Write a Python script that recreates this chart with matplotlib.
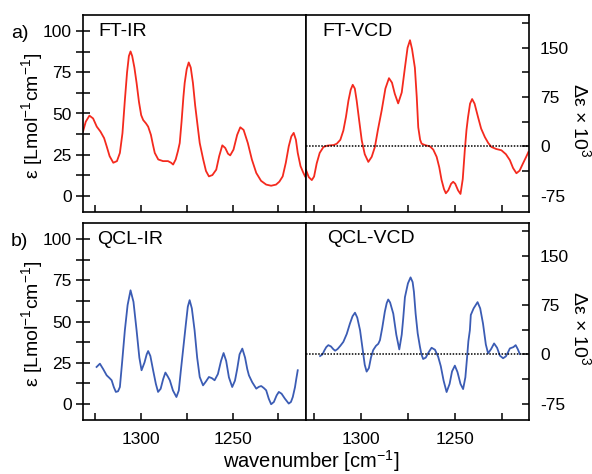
import matplotlib
matplotlib.use("Agg")
import matplotlib.pyplot as plt
from matplotlib.ticker import MultipleLocator, FixedLocator

plt.rcParams['font.family'] = ['Liberation Sans', 'DejaVu Sans']
plt.rcParams['font.size'] = 13
plt.rcParams['axes.unicode_minus'] = False

# FT-IR (wavenumber, epsilon)
ftir_wn = [1331.5, 1330, 1328, 1326, 1324, 1322, 1320, 1318.6, 1317, 1315, 1313, 1311.4, 1310,
           1308.7, 1307.5, 1306.5, 1305.6, 1304.7, 1303.5, 1302.3, 1301, 1299.8, 1298.7, 1297.2,
           1296, 1294.5, 1293.4, 1292.4, 1290.5, 1287.9, 1285.2, 1283.5, 1282.4, 1281, 1279.8,
           1278.8, 1277.8, 1276.8, 1276.1, 1275, 1273.9, 1272.8, 1271.6, 1270.4, 1269, 1267.9,
           1266, 1264.5, 1262.9, 1261, 1258.9, 1257.3, 1255.6, 1254, 1252.5, 1251.3, 1249.5,
           1247.5, 1245.8, 1244, 1241.7, 1239.5, 1237.1, 1234.5, 1231.7, 1229, 1226.3, 1224.5,
           1222.7, 1221, 1219.4, 1218, 1216.7, 1215.5, 1214.5, 1213, 1211.5, 1210.5]
ftir_eps = [39, 45, 48.7, 47, 42, 39, 35, 30, 24, 20, 21, 26, 38,
            58, 75, 85, 87.8, 85, 78, 68.6, 57, 49, 46, 44,
            42, 37, 31, 26, 22, 21, 21, 20, 18.9, 22, 27,
            32, 45, 60, 68.6, 77, 81.1, 78, 68.6, 55, 42, 32,
            22, 15, 11.7, 12.5, 15.8, 24, 30.6, 29, 25.5, 24.5, 28,
            37, 41.6, 40, 32, 22, 13.8, 9, 6.7, 6, 6.7, 8.5,
            11.7, 20, 30, 36, 38.2, 34, 26, 18, 14, 11.7]

# FT-VCD (wavenumber, delta epsilon x 10^3)
ftvcd_wn = [1329.3, 1327.8, 1326.2, 1325, 1323.6, 1322, 1320, 1318, 1316.5, 1314.5, 1312.9, 1311,
            1309.4, 1308, 1306.7, 1305.5, 1304.4, 1303.3, 1302.3, 1301, 1299.6, 1298, 1296.1,
            1294.3, 1292.6, 1291, 1289, 1287, 1285.1, 1283.5, 1282, 1280.2, 1278.3, 1276.6,
            1275.2, 1273.9, 1272.8, 1271.3, 1270.3, 1269.5, 1268.5, 1267.7, 1265.5, 1263.3,
            1261.5, 1259.7, 1258.3, 1257.1, 1255.8, 1254.8, 1253.5, 1252, 1250.9, 1249.8, 1248.3,
            1247, 1245.8, 1244.7, 1243.8, 1243, 1241.9, 1240.8, 1239.5, 1237.6, 1236, 1234,
            1232.2, 1230.5, 1228, 1225.2, 1222.8, 1220.7, 1219, 1217.2, 1215.5, 1213.7, 1212, 1210.8]
ftvcd_de = [-36, -47, -51.4, -46, -26, -10, -1, 1, 1.5, 2, 4, 10,
            24, 45, 69.5, 86, 93.7, 88, 69.5, 40, 9, -12, -23.7,
            -16, -1, 25, 54.4, 88, 103.8, 97, 80, 65.4, 82, 119.8,
            150, 161.6, 148, 119.8, 75, 29, 10, 4, 1.5, 0,
            -5, -16, -32, -51, -65, -71.5, -67, -57, -54, -57, -67,
            -72.5, -50, -6, 25, 44, 65, 72, 65, 44, 27, 14,
            5, -1, -4, -6, -12, -21, -33, -41, -37, -26, -16, -8.6]

# QCL-IR
qclir_wn = [1324.1, 1322.3, 1320.5, 1318.6, 1317, 1315.9, 1314.7, 1313.6, 1312.4, 1311.4, 1310.2,
            1308.7, 1307.2, 1305.6, 1304, 1302.3, 1300.8, 1299.6, 1298, 1296.8, 1296, 1294.8,
            1293.3, 1291.8, 1290.6, 1289.2, 1287.8, 1286.6, 1285.3, 1284.2, 1282.5, 1280.6,
            1279.3, 1278.2, 1277, 1275.5, 1274.4, 1273.4, 1272.2, 1270.7, 1269.3, 1267.9, 1266.1,
            1264.5, 1262.9, 1261.3, 1259.8, 1258, 1256.3, 1254.9, 1253.5, 1252, 1250.2, 1248.7,
            1247.5, 1246.2, 1244.7, 1243.2, 1242, 1241.1, 1239.3, 1237.1, 1235.7, 1234.4, 1233,
            1231.7, 1230.3, 1229, 1227.5, 1226, 1224.8, 1223.3, 1221.5, 1219.4, 1218.2, 1217.2,
            1216, 1215.3, 1214.5]
qclir_eps = [22.3, 24.3, 21, 17.2, 15.5, 14.2, 10, 7.1, 7.5, 10.1, 25,
             44.6, 60, 69, 62, 44.6, 28, 20.3, 25, 30, 32, 29,
             20.3, 12, 7.1, 9, 15, 18.9, 16.5, 14.2, 8, 4,
             8, 20, 32.4, 48, 59, 63, 58, 44.6, 28, 16.2, 11.1,
             13.5, 16.2, 15.5, 14.2, 18, 26, 30.8, 26, 16, 10.1, 14,
             21, 30, 33.5, 28, 21, 17.2, 13, 9.1, 10.2, 10.7, 9.5,
             8.1, 3, -0.4, 1, 5, 7.1, 6, 3, 0, 1, 4,
             10, 15, 20.3]

# QCL-VCD
qclvcd_wn = [1321.8, 1320.5, 1319.5, 1318.5, 1317.4, 1316, 1314.8, 1313.8, 1312.5, 1311, 1309.4,
             1307.6, 1305.9, 1304.5, 1303.2, 1302, 1300.5, 1299, 1298, 1297, 1295.8, 1294.7,
             1293.5, 1292, 1290.8, 1289.9, 1288.7, 1287.3, 1286.3, 1285.5, 1284.5, 1282.8,
             1281.2, 1279.6, 1278.3, 1277.5, 1276.6, 1275, 1273.6, 1272.5, 1271.8, 1270.9,
             1269.8, 1268.6, 1267.8, 1266.9, 1265.5, 1264, 1262.4, 1260.6, 1258.9, 1257.5, 1256,
             1254.4, 1252.8, 1251.5, 1250, 1248.6, 1247, 1245.6, 1244.4, 1243.5, 1242.8, 1242,
             1241.5, 1240, 1237.9, 1236.5, 1235, 1233.5, 1232.3, 1230.7, 1229.1, 1227.5, 1226,
             1224.3, 1222.8, 1221.7, 1220.7, 1218.8, 1217.6, 1216.5, 1215.4]
qclvcd_de = [-2.6, 0, 6, 11, 14, 12, 8, 5.5, 8, 13, 19,
             31, 46.8, 58, 63.4, 56, 36.7, 5, -16, -26.3, -21, -5,
             6.5, 13, 16, 21.6, 40, 65, 78, 83.5, 79, 61.9,
             30, 7.5, 30, 55, 87, 108, 117.2, 110, 95, 61.9,
             32, 11.5, 0, -7.1, -5, 3, 10, 7, -3.6, -18, -40,
             -57.4, -45, -26, -17.2, -27, -45, -52.9, -35, -5, 20, 36.7,
             60, 70, 79.5, 70, 46.8, 15, 1.5, 8, 16.6, 10, -2,
             -6, -3, 3, 9, 11, 14, 8, 0.5]

red = '#f42a1e'
blue = '#3b5cb4'

fig = plt.figure(figsize=(5.92, 4.74), dpi=100)
W, H = 592, 474


def box(x0, y0, x1, y1):
    return [x0 / W, 1 - y1 / H, (x1 - x0) / W, (y1 - y0) / H]


rows = [(15, 212), (223, 420)]
panels = [
    (ftir_wn, ftir_eps, ftvcd_wn, ftvcd_de, red, 'FT-IR', 'FT-VCD', 'a)', 98, 322),
    (qclir_wn, qclir_eps, qclvcd_wn, qclvcd_de, blue, 'QCL-IR', 'QCL-VCD', 'b)', 97, 327),
]

for i, ((y0, y1), (iw, ie, vw, vd, col, t_ir, t_vcd, tag, xir, xvcd)) in enumerate(zip(rows, panels)):
    axl = fig.add_axes(box(83, y0, 306, y1))
    axr = fig.add_axes(box(306, y0, 529, y1))

    axl.plot(iw, ie, color=col, lw=1.3)
    axr.plot(vw, vd, color=col, lw=1.3)
    axr.axhline(0, color='black', lw=1.1, ls=(0, (1, 1)))

    axl.set_xlim(1331.5, 1210)
    axr.set_xlim(1329.3, 1210.5)
    axl.set_ylim(-10, 110)
    axr.set_ylim(-100, 200)

    for ax in (axl, axr):
        ax.xaxis.set_major_locator(FixedLocator([1300, 1250]))
        ax.xaxis.set_minor_locator(FixedLocator([1325, 1275, 1225]))
        ax.tick_params(axis='x', which='both', direction='in', length=5, width=1.1,
                       top=False, labelsize=12.5, pad=9)
        for s in ax.spines.values():
            s.set_linewidth(1.2)
        if i == 0:
            ax.tick_params(axis='x', labelbottom=False)

    axl.yaxis.set_major_locator(MultipleLocator(25))
    axl.yaxis.set_minor_locator(MultipleLocator(12.5))
    axl.tick_params(axis='y', which='both', direction='inout', length=10, width=1.1,
                    labelsize=12.5, pad=3)

    axr.yaxis.tick_right()
    axr.yaxis.set_major_locator(FixedLocator([-75, 0, 75, 150]))
    axr.yaxis.set_minor_locator(FixedLocator([-37.5, 37.5, 112.5, 187.5]))
    axr.tick_params(axis='y', which='both', direction='in', length=5, width=1.1,
                    left=False, right=True, labelsize=12.5, pad=8)

    axl.text((xir - 83) / 223, 1 - 16.5 / (y1 - y0), t_ir, transform=axl.transAxes,
             ha='left', va='center', fontsize=14)
    axr.text((xvcd - 306) / 223, 1 - 16 / (y1 - y0), t_vcd,
             transform=axr.transAxes, ha='left', va='center', fontsize=14)

    fig.text(11 / W, 1 - (y0 + 18) / H, tag, ha='left', va='center', fontsize=14)
    fig.text(33 / W, 1 - (y0 + 101) / H, r'ε [Lmol$^{\mathregular{-1}}$cm$^{\mathregular{-1}}$]',
             rotation=90, ha='center', va='center', fontsize=14)
    fig.text(580 / W, 1 - (y0 + 105) / H, r'Δε × 10$^{\mathregular{3}}$',
             rotation=270, ha='center', va='center', fontsize=14)

fig.text(311 / W, 1 - 461 / H, r'wavenumber [cm$^{\mathregular{-1}}$]',
         ha='center', va='center', fontsize=14.5)

fig.savefig('out.png', dpi=100)
